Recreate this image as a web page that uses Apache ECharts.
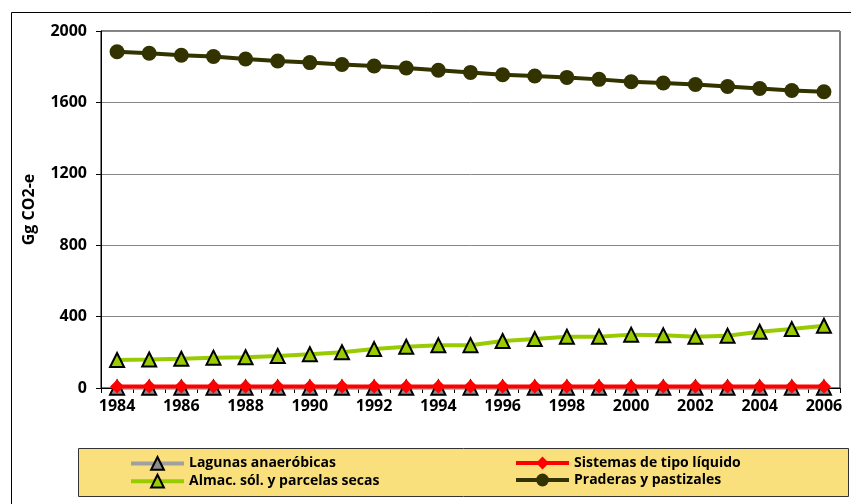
<!DOCTYPE html>
<html>
<head>
<meta charset="utf-8">
<script src="https://cdn.jsdelivr.net/npm/echarts@6/dist/echarts.min.js"></script>
<style>html,body{margin:0;padding:0;background:#fff}#c{width:851px;height:504px}</style>
</head>
<body>
<div id="c"></div>
<script>
const years = ['1984','1985','1986','1987','1988','1989','1990','1991','1992','1993','1994','1995','1996','1997','1998','1999','2000','2001','2002','2003','2004','2005','2006'];
const lagunas = [2,2,2,2,2,2,2,2,2,2,2,2,2,2,2,2,2,2,2,2,2,2,2];
const sistemas = [9,9,9,9,9,9,9,9,9,9,9,9,9,9,9,9,9,9,9,9,9,9,9];
const almac = [157,160,164,170,172,179,189,200,218,231,239,240,263,274,287,287,299,295,287,293,315,330,349];
const praderas = [1884,1875,1864,1857,1843,1832,1823,1812,1804,1793,1780,1768,1755,1748,1740,1729,1716,1709,1700,1689,1678,1667,1660];
const yTicks = {min: 0, max: 2000, interval: 400};
const names = ['Lagunas anaeróbicas','Sistemas de tipo líquido','Almac. sól. y parcelas secas','Praderas y pastizales'];

const font = '"Open Sans", Lato, "Liberation Sans", sans-serif';
const chart = echarts.init(document.getElementById('c'), null, {renderer: 'canvas'});
const legendText = {fontFamily: font, fontWeight: 'bold', fontSize: 14, color: '#000'};
chart.setOption({
  animation: false,
  backgroundColor: '#fff',
  graphic: [
    {type: 'rect', shape: {x: 11.5, y: 12.5, width: 860, height: 520}, style: {fill: 'none', stroke: '#000', lineWidth: 1}, z: -10},
    {type: 'rect', shape: {x: 78.5, y: 448.5, width: 770, height: 48}, style: {fill: '#f9e07c', stroke: '#333', lineWidth: 1}, z: -5}
  ],
  grid: {left: 101, top: 31, right: 11, bottom: 116, show: true, borderColor: '#000', borderWidth: 1, backgroundColor: 'transparent'},
  legend: [
    {data: [names[0], names[2]], orient: 'vertical', left: 129, top: 456, itemWidth: 53, itemHeight: 16, itemGap: 3, textStyle: legendText, padding: 0, lineStyle: {width: 4}},
    {data: [names[1], names[3]], orient: 'vertical', left: 514, top: 456, itemWidth: 53, itemHeight: 16, itemGap: 3, textStyle: legendText, padding: 0, lineStyle: {width: 4}}
  ],
  xAxis: {
    type: 'category', data: years, boundaryGap: true,
    axisLine: {lineStyle: {color: '#000', width: 1}},
    axisTick: {show: true, interval: 0, inside: false, length: 5, lineStyle: {color: '#000'}},
    axisLabel: {interval: 1, fontFamily: font, fontWeight: 'bold', fontSize: 16, color: '#000', margin: 10}
  },
  yAxis: {
    type: 'value', min: yTicks.min, max: yTicks.max, interval: yTicks.interval,
    name: 'Gg CO2-e', nameLocation: 'middle', nameRotate: 90, nameGap: 64,
    nameTextStyle: {fontFamily: font, fontWeight: 'bold', fontSize: 16, color: '#000'},
    axisLine: {show: true, lineStyle: {color: '#000'}},
    axisTick: {show: true, inside: false, length: 5, lineStyle: {color: '#000'}},
    splitLine: {show: true, lineStyle: {color: '#868686', width: 1}},
    axisLabel: {formatter: v => String(v), fontFamily: font, fontWeight: 'bold', fontSize: 16, color: '#000', margin: 14}
  },
  series: [
    {name: names[0], type: 'line', data: lagunas, symbol: 'triangle', symbolSize: 14,
      lineStyle: {color: '#a0a0a0', width: 4}, itemStyle: {color: '#8c8c8c', borderColor: '#000', borderWidth: 2}},
    {name: names[1], type: 'line', data: sistemas, symbol: 'diamond', symbolSize: 14,
      lineStyle: {color: '#ff0000', width: 4}, itemStyle: {color: '#ff0000', borderColor: '#ff0000', borderWidth: 0}},
    {name: names[2], type: 'line', data: almac, symbol: 'triangle', symbolSize: 14,
      lineStyle: {color: '#99cc00', width: 4}, itemStyle: {color: '#99cc00', borderColor: '#000', borderWidth: 2}},
    {name: names[3], type: 'line', data: praderas, symbol: 'circle', symbolSize: 15,
      lineStyle: {color: '#333300', width: 4}, itemStyle: {color: '#333300', borderColor: '#333300', borderWidth: 0}}
  ]
});
</script>
</body>
</html>
